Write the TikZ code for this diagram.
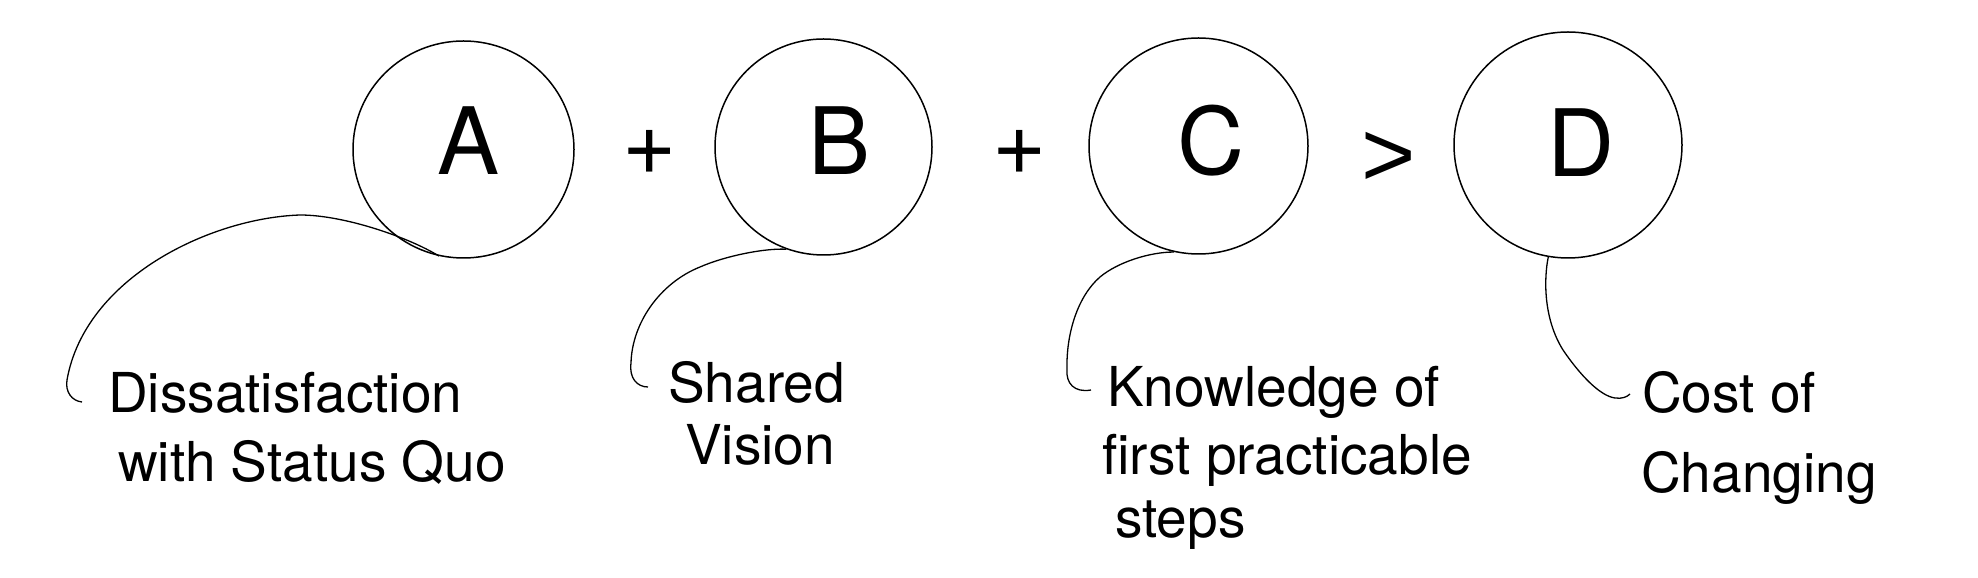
\documentclass[tikz,border=0pt]{standalone}
\usepackage{fontspec}
\setmainfont{TeX Gyre Heros}
\newfontfamily\opfont{Liberation Sans}
\usetikzlibrary{shapes.geometric}
\tikzset{
  bubble/.style={ellipse, draw, line width=1.5pt, inner sep=0pt},
  letter/.style={anchor=base, inner sep=0pt, font=\fontsize{93}{100}\selectfont},
  lbl/.style={anchor=base west, inner sep=0pt, align=left, font=\fontsize{55}{62}\selectfont},
  conn/.style={draw, line width=1.3pt},
}
\begin{document}
\begin{tikzpicture}[x=1pt,y=1pt]
\useasboundingbox[fill=white] (0,0) rectangle (1978,578);
% circles
\node[bubble, minimum width=221pt, minimum height=217pt] (A) at (463.5,428.5) {};
\node[bubble, minimum width=217pt, minimum height=216pt] (B) at (823.5,431) {};
\node[bubble, minimum width=219pt, minimum height=216pt] (C) at (1198.5,432) {};
\node[bubble, minimum width=228pt, minimum height=226pt] (D) at (1568,433) {};
% letters and operators
\node[letter] (tA) at (469,403) {A};
\node[letter] (p1) at (650,403) {+};
\node[letter] (tB) at (840,403) {B};
\node[letter] (p2) at (1020,403) {+};
\node[letter] (tC) at (1211,403) {C};
\node[letter] (gt) at (1389,391) {\opfont >};
\node[letter] (tD) at (1581.5,401) {D};
% labels (anchored at the baseline of their last line)
\node[lbl] (LA) at (108,96) {Dissatisfaction\\[7pt]\hspace*{10pt}with Status Quo};
\node[lbl] (LB) at (668,113) {Shared\\ \hspace*{17pt}Vision};
\node[lbl] (LC) at (1102,40) {\hspace*{5pt}Knowledge of\\[6pt]first practicable\\[1pt]\hspace*{13pt}steps};
\node[lbl] (LD) at (1641,85) {\hspace*{1pt}Cost of\\[18pt]Changing};
% hook ends
\coordinate (hA) at (82,176);
\coordinate (hB) at (648,191);
\coordinate (hC) at (1091,188);
\coordinate (hD) at (1630,184);
% connectors
\path[conn] (A.-103) .. controls (410,340) and (345,363) .. (300,363)
  .. controls (210,360) and (85,300) .. (67,198)
  .. controls (65,186) and (72,177) .. (hA);
\path[conn] (B.-110) .. controls (765,330) and (725,322) .. (700,311)
  .. controls (660,295) and (632,255) .. (631,215)
  .. controls (629,200) and (637,191) .. (hB);
\path[conn] (C.-103) .. controls (1150,326) and (1118,316) .. (1100,301)
  .. controls (1078,282) and (1066,245) .. (1067,208)
  .. controls (1066,195) and (1074,185) .. (hC);
\path[conn] (D.-100) .. controls (1544,300) and (1543,260) .. (1563,228)
  .. controls (1580,203) and (1600,182) .. (1615,180)
  .. controls (1622,179) and (1627,181) .. (hD);
\end{tikzpicture}
\end{document}
